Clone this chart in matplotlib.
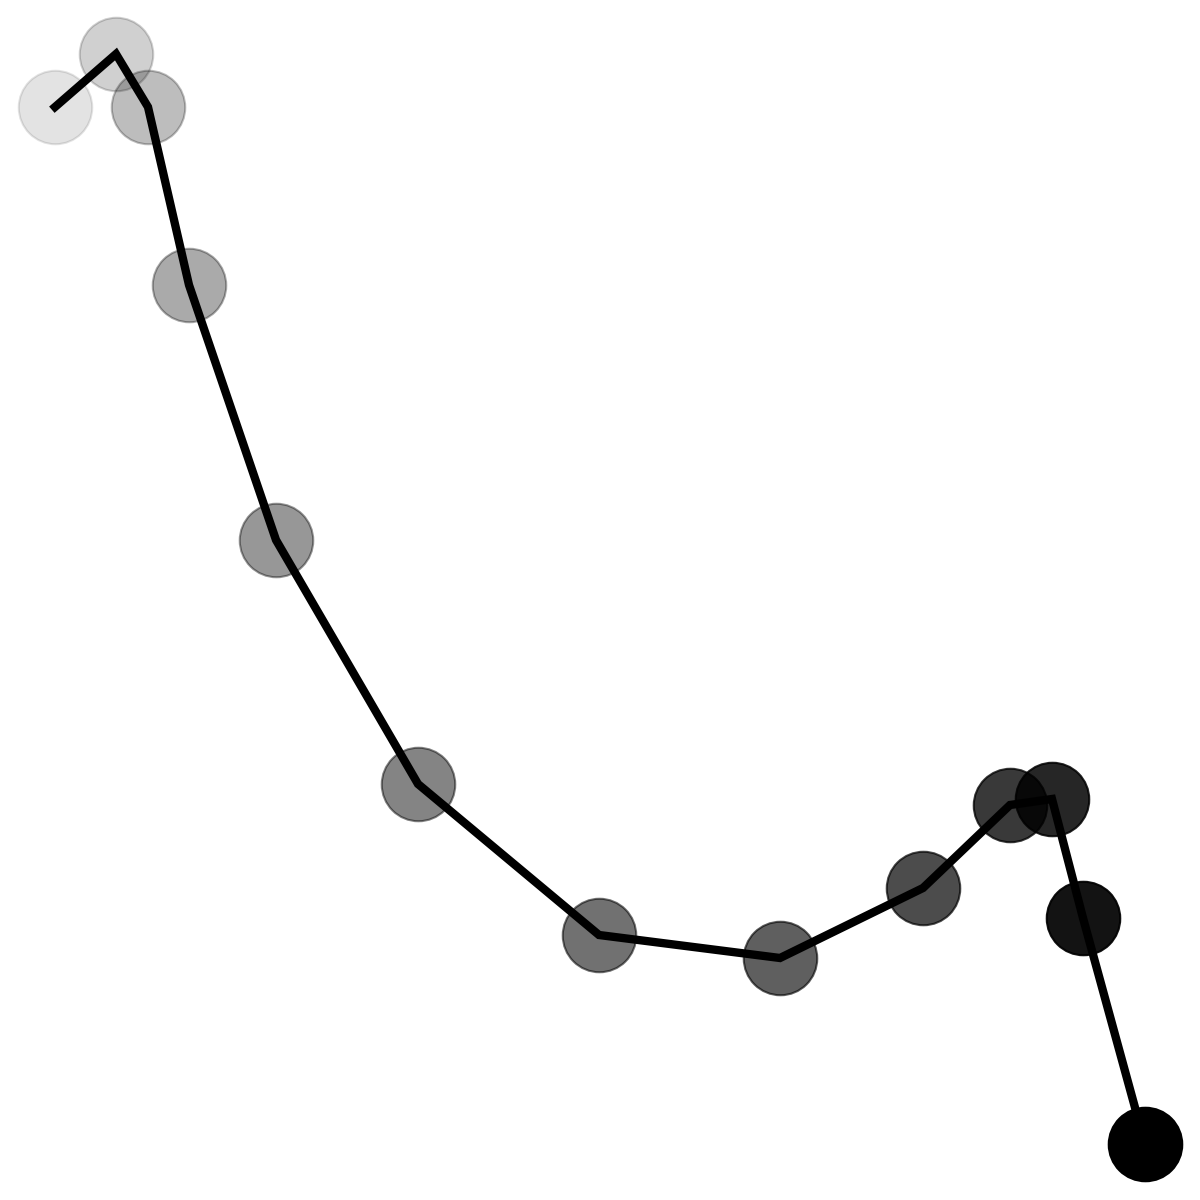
import matplotlib
matplotlib.use("Agg")
import matplotlib.pyplot as plt
import numpy as np

# values (arbitrary units, y upward)
x_vals = [55, 116, 148, 189, 276, 418, 599, 780, 923, 1010, 1052, 1083, 1145]
y_vals = [1093, 1146, 1093, 915, 660, 416, 265, 242, 312, 395, 401, 282, 56]

n = len(x_vals)
alphas = np.linspace(0.11, 1.0, n)

fig = plt.figure(figsize=(12, 12), dpi=100)
ax = fig.add_axes([0, 0, 1, 1])
ax.set_xlim(0, 1200)
ax.set_ylim(0, 1200)
ax.axis("off")

for i in range(n):
    ax.scatter(x_vals[i], y_vals[i], s=2800, color="black", alpha=alphas[i],
               edgecolors="black", linewidths=1.5, zorder=2)
ax.plot(x_vals, y_vals, color="black", linewidth=6.0, zorder=3,
        solid_joinstyle="miter")

fig.savefig("out.png", dpi=100)
